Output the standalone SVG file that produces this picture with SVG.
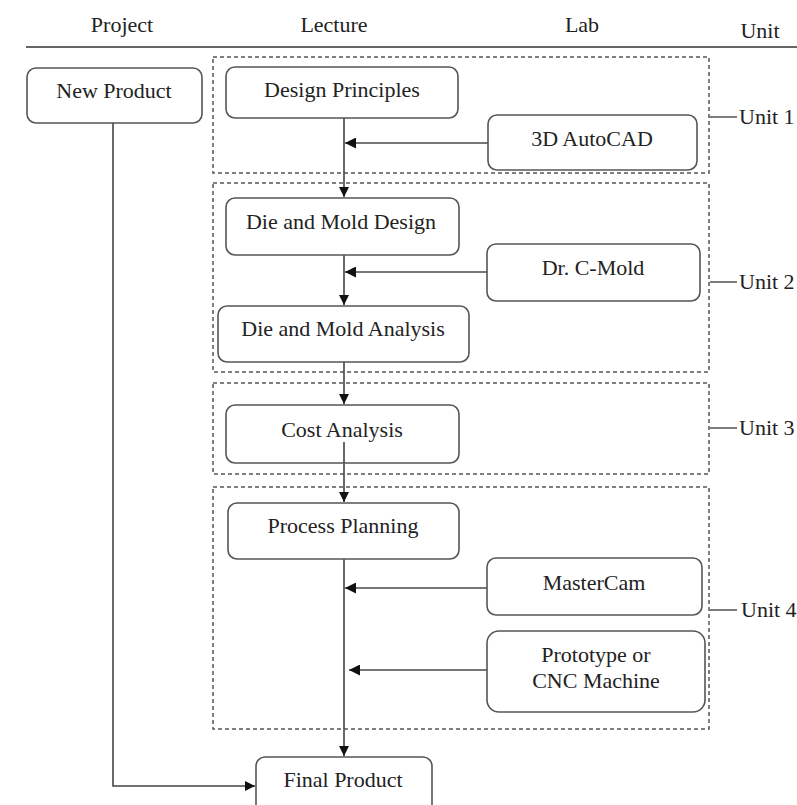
<svg xmlns="http://www.w3.org/2000/svg" width="797" height="805" viewBox="0 0 797 805">
<style>
text{font-family:'Liberation Serif','Tinos','Times New Roman','DejaVu Serif',serif;font-size:22px;fill:#222}
.c{text-anchor:middle}
.box{fill:#fff;stroke:#555;stroke-width:1.6}
.unit{fill:none;stroke:#555;stroke-width:1.5;stroke-dasharray:4 3}
.main{stroke:#444;stroke-width:1.6;fill:none}
.lab{stroke:#777;stroke-width:1.8;fill:none}
.tick{stroke:#444;stroke-width:1.4}
</style>
<defs>
<marker id="ah" viewBox="0 0 10 10" refX="10" refY="5" markerWidth="10" markerHeight="11" markerUnits="userSpaceOnUse" orient="auto"><path d="M0,0 L10,5 L0,10 Z" fill="#111"/></marker>
<marker id="ah2" viewBox="0 0 10 10" refX="10" refY="5" markerWidth="11" markerHeight="11" markerUnits="userSpaceOnUse" orient="auto"><path d="M0,0 L10,5 L0,10 Z" fill="#111"/></marker>
</defs>
<rect width="797" height="805" fill="#fff"/>
<g id="header">
<text class="c" x="122" y="32">Project</text>
<text class="c" x="334" y="32">Lecture</text>
<text class="c" x="582" y="32">Lab</text>
<text class="c" x="760" y="38">Unit</text>
<line x1="26" y1="47" x2="797" y2="47" stroke="#333" stroke-width="1.6"/>
</g>
<g id="units">
<rect class="unit" x="213" y="57" width="496" height="116"/>
<rect class="unit" x="213" y="183" width="496" height="189"/>
<rect class="unit" x="213" y="383" width="496" height="91"/>
<rect class="unit" x="213" y="487" width="496" height="242"/>
<line class="tick" x1="710" y1="117" x2="737" y2="117"/><text x="739" y="124">Unit 1</text>
<line class="tick" x1="710" y1="282" x2="737" y2="282"/><text x="739" y="289">Unit 2</text>
<line class="tick" x1="710" y1="428" x2="737" y2="428"/><text x="739" y="435">Unit 3</text>
<line class="tick" x1="710" y1="610" x2="737" y2="610"/><text x="741" y="617">Unit 4</text>
</g>
<g id="connectors">
<path class="main" d="M344,118 V197" marker-end="url(#ah)"/>
<path class="lab" d="M488,143 H345" marker-end="url(#ah2)"/>
<path class="main" d="M344,255 V305" marker-end="url(#ah)"/>
<path class="lab" d="M487,272 H345" marker-end="url(#ah2)"/>
<path class="main" d="M344,362 V404" marker-end="url(#ah)"/>
<path class="main" d="M344,463 V502" marker-end="url(#ah)"/>
<path class="main" d="M344,559 V756" marker-end="url(#ah)"/>
<path class="lab" d="M487,588 H345" marker-end="url(#ah2)"/>
<path class="lab" d="M487,670 H349" marker-end="url(#ah2)"/>
<path class="main" d="M113,123 V786 H255" marker-end="url(#ah)"/>
</g>
<g id="new-product"><rect class="box" x="27" y="68" width="175" height="55" rx="9"/><text class="c" x="114" y="98">New Product</text></g>
<g id="design-principles"><rect class="box" x="226" y="67" width="232" height="51" rx="9"/><text class="c" x="342" y="97">Design Principles</text></g>
<g id="autocad"><rect class="box" x="488" y="115" width="209" height="55" rx="9"/><text class="c" x="592" y="146">3D AutoCAD</text></g>
<g id="die-mold-design"><rect class="box" x="226" y="198" width="233" height="57" rx="9"/><text class="c" x="341" y="229">Die and Mold Design</text></g>
<g id="c-mold"><rect class="box" x="487" y="244" width="213" height="57" rx="9"/><text class="c" x="593" y="275">Dr. C-Mold</text></g>
<g id="die-mold-analysis"><rect class="box" x="218" y="306" width="251" height="56" rx="9"/><text class="c" x="343" y="336">Die and Mold Analysis</text></g>
<g id="cost-analysis"><rect class="box" x="226" y="405" width="233" height="58" rx="9"/><text class="c" x="342" y="437">Cost Analysis</text><line class="main" x1="344" y1="442" x2="344" y2="463"/></g>
<g id="process-planning"><rect class="box" x="228" y="503" width="231" height="56" rx="9"/><text class="c" x="343" y="533">Process Planning</text></g>
<g id="mastercam"><rect class="box" x="487" y="558" width="215" height="57" rx="9"/><text class="c" x="594" y="590">MasterCam</text></g>
<g id="prototype"><rect class="box" x="487" y="631" width="218" height="81" rx="12"/><text class="c" x="596" y="662">Prototype or</text><text class="c" x="596" y="688">CNC Machine</text></g>
<g id="final-product"><rect class="box" x="256" y="757" width="176" height="60" rx="9"/><text class="c" x="343" y="787">Final Product</text></g>
</svg>
